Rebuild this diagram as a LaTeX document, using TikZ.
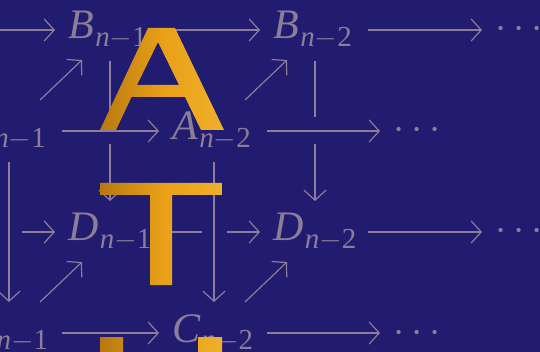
\RequirePackage{fix-cm}
\documentclass[tikz,border=0pt]{standalone}
\usepackage{fontspec}
\setmainfont{Liberation Serif}
\usetikzlibrary{arrows.meta}
\definecolor{bg}{HTML}{211C70}
\definecolor{ink}{HTML}{8C7E98}
\definecolor{goldD}{HTML}{B87810}
\definecolor{goldM}{HTML}{E8A018}
\definecolor{goldL}{HTML}{EEB02A}
\newcommand\lab[2]{{\fontsize{42}{44}\selectfont\itshape #1}\kern1pt\raisebox{-7.5pt}{\fontsize{29}{32}\selectfont\itshape n\upshape$-$#2}}
\newcommand\dotsrow{{\fontsize{40}{42}\selectfont$\cdots$}}
\begin{document}
\begin{tikzpicture}[x=1pt,y=-1pt,line width=1.2pt,
  arr/.style={draw=ink,-{Straight Barb[length=10pt,width=22pt]}},
  halo/.style={draw=bg},
  lbl/.style={text=ink,inner sep=0pt,anchor=base west},
  letter/.style={even odd rule,left color=goldD,right color=goldL,middle color=goldM}]
\fill[bg] (0,0) rectangle (540,352);
\useasboundingbox (0,0) rectangle (540,352);
\clip (0,0) rectangle (540,352);
% labels
\coordinate (B0) at (-137,39);
\coordinate (D0) at (-137,241);
\node[lbl] (B1) at (68,39) {\lab{B}{1}};
\node[lbl] (B2) at (273,39) {\lab{B}{2}};
\node[lbl] (A1) at (-33,140) {\lab{A}{1}};
\node[lbl] (A2) at (172,140) {\lab{A}{2}};
\node[lbl] (D1) at (68,241) {\lab{D}{1}};
\node[lbl] (D2) at (273,241) {\lab{D}{2}};
\node[lbl] (C1) at (-33,342) {\lab{C}{1}};
\node[lbl] (C2) at (172,342) {\lab{C}{2}};
\node[lbl] (dB) at (495,39) {\dotsrow};
\node[lbl] (dA) at (393,140) {\dotsrow};
\node[lbl] (dD) at (495,241) {\dotsrow};
\node[lbl] (dC) at (393,342) {\dotsrow};
% back horizontal arrows
\draw[arr] ([shift={(95,-9)}]B0) -- ([shift={(-13,-9)}]B1.base west);
\draw[arr] ([shift={(95,-9)}]B1.base west) -- ([shift={(-13,-9)}]B2.base west);
\draw[arr] ([shift={(95,-9)}]B2.base west) -- ([shift={(-13,-9)}]dB.base west);
\draw[arr] ([shift={(95,-9)}]D0) -- ([shift={(-13,-9)}]D1.base west);
\draw[arr] ([shift={(95,-9)}]D1.base west) -- ([shift={(-13,-9)}]D2.base west);
\draw[arr] ([shift={(95,-9)}]D2.base west) -- ([shift={(-13,-9)}]dD.base west);
% front verticals (break the back horizontals)
\foreach \s/\t in {A1/C1,A2/C2}{
  \draw[halo,line width=25pt] ([shift={(42,30)}]\s.base west) -- ([shift={(42,-50)}]\t.base west);
  \draw[arr] ([shift={(42,22)}]\s.base west) -- ([shift={(42,-40)}]\t.base west);
}
% back verticals
\foreach \s/\t in {B1/D1,B2/D2}{
  \draw[arr] ([shift={(42,22)}]\s.base west) -- ([shift={(42,-40)}]\t.base west);
}
% front horizontals (break the back verticals)
\foreach \s/\t in {A1/A2,A2/dA,C1/C2,C2/dC}{
  \draw[halo,line width=27pt] ([shift={(95,-9)}]\s.base west) -- ([shift={(-25,-9)}]\t.base west);
  \draw[arr] ([shift={(95,-9)}]\s.base west) -- ([shift={(-13,-9)}]\t.base west);
}
% diagonals
\foreach \s/\t in {A1/B1,A2/B2,C1/D1,C2/D2}{
  \draw[arr] ([shift={(73,-40)}]\s.base west) -- ([shift={(14,21)}]\t.base west);
}
% big letters
\shade[letter] (100,130) -- (148,28) -- (175,28) -- (224,130) -- (201,130) -- (185,97)
   -- (131.5,97) -- (116,130) -- cycle
   (137,85) -- (158,42) -- (179,85) -- cycle;
\shade[letter] (100,183) -- (222,183) -- (222,195) -- (172,195) -- (172,285)
   -- (150,285) -- (150,195) -- (100,195) -- cycle;
\shade[letter] (100,337) -- (123,337) -- (123,386) -- (198,386) -- (198,337)
   -- (222,337) -- (222,440) -- (198,440) -- (198,398) -- (123,398) -- (123,440)
   -- (100,440) -- cycle;
\end{tikzpicture}
\end{document}
